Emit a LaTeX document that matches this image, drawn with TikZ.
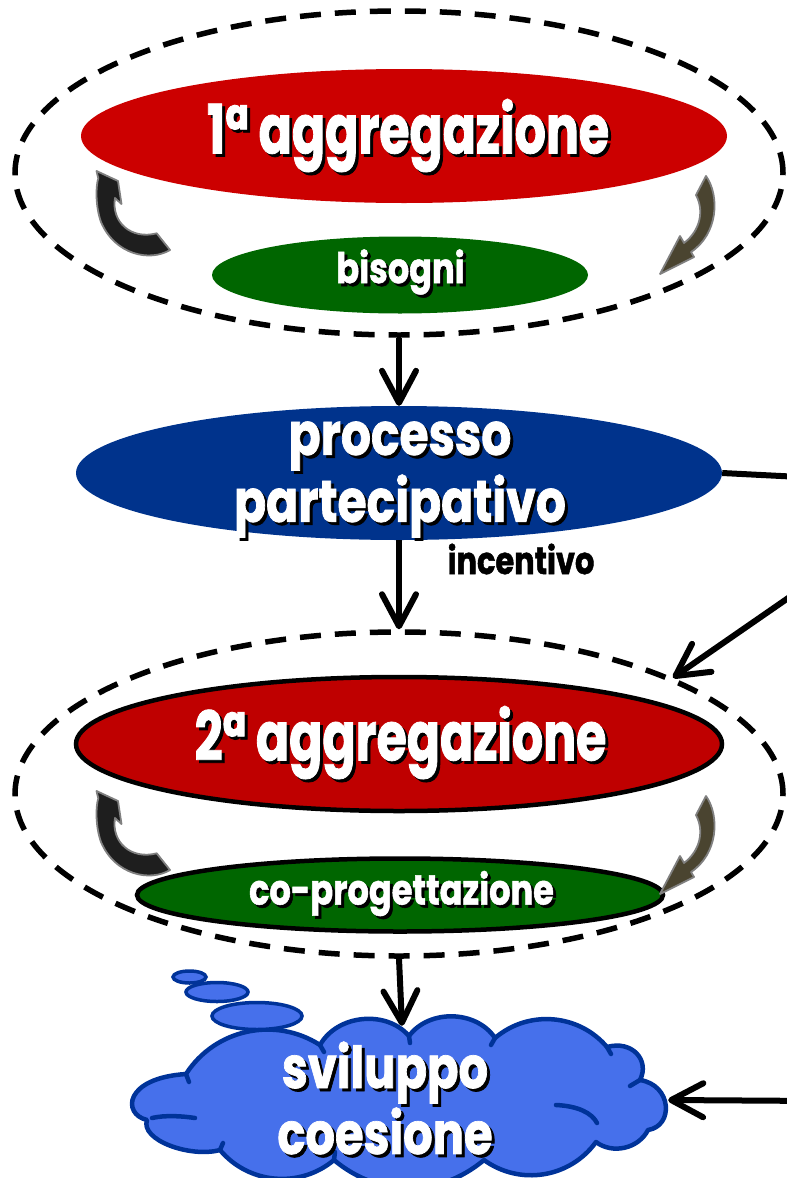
\documentclass[tikz,border=0pt]{standalone}
\usepackage{fontspec}
\usetikzlibrary{shapes.geometric,arrows.meta}
\newfontfamily\df{Poppins}[FakeStretch=0.8,BoldFeatures={FakeBold=1.2}]
\newfontfamily\dfa{Poppins}[FakeStretch=0.72,BoldFeatures={FakeBold=1.2}]
\definecolor{redA}{HTML}{CC0000}
\definecolor{redB}{HTML}{BF0000}
\definecolor{greenA}{HTML}{006600}
\definecolor{blueA}{HTML}{00338C}
\definecolor{cloudF}{RGB}{70,112,235}
\definecolor{cloudB}{HTML}{003399}
\definecolor{arrL}{HTML}{1E1E1E}
\definecolor{arrR}{HTML}{4A4430}
\newcommand{\shd}[1]{\leavevmode\rlap{\kern3pt\raisebox{-3pt}{\color{black}#1}}{\color{white}#1}}
\begin{document}
\begin{tikzpicture}[x=1pt,y=-1pt,
  ring/.style={ellipse, draw=black, line width=5.5pt, dash pattern=on 21pt off 14pt,
    minimum width=768pt, minimum height=324pt, inner sep=0pt},
  blob/.style={ellipse, inner sep=0pt},
  txt/.style={inner sep=0pt, align=center, font=\df\bfseries},
  conn/.style={line width=6pt, -{Straight Barb[length=32pt,width=34pt,line cap=round,line join=round]}},
  carrL/.pic={\filldraw[pic actions, line width=1.8pt, line join=round]
     (-36.5,-43) -- (-15,-33) -- (-11.5,-10) -- (-18,-16)
     .. controls (-22,8) and (-2,26) .. (23.7,19.3) -- (37,36)
     .. controls (17,48) and (-18,41) .. (-32,8)
     .. controls (-38,-9) and (-37,-29) .. (-34.7,-35.7) -- cycle;},
  carrR/.pic={\filldraw[pic actions, line width=1.8pt, line join=round]
     (706,176) .. controls (720,196) and (718,234) .. (691,252) -- (694,257) -- (660,274)
     -- (680,236) -- (684,243) .. controls (701,230) and (704,210) .. (696,195) -- cycle;},
  cloudline/.style={draw=cloudB, line width=4.5pt, line join=round, line cap=round},
  bubble/.style={ellipse, fill=cloudF, draw=cloudB, line width=3.5pt, inner sep=0pt}]
\path[use as bounding box] (0,0) rectangle (787,1178);
\clip (0,0) rectangle (787,1178);

% ---- first aggregation
\node[ring] (g1) at (399,173) {};
\node[blob, fill=redA, minimum width=646pt, minimum height=134pt] (e1) at (404,136) {};
\node[txt, font=\dfa\bfseries\fontsize{68}{60}\selectfont] (t1) at (408,137) {\shd{1ª aggregazione}};
\node[blob, fill=greenA, minimum width=376pt, minimum height=77pt] (b1) at (400,275) {};
\node[txt, font=\df\bfseries\fontsize{42}{42}\selectfont] (tb1) at (400.5,273.5) {\shd{bisogni}};
\pic[fill=arrL, draw=gray] at (133,214) {carrL};
\pic[fill=arrR, draw=gray] at (0,0) {carrR};

% ---- participatory process
\node[blob, fill=blueA, minimum width=646pt, minimum height=134pt] (p) at (399,473) {};
\node[txt, font=\df\bfseries\fontsize{59}{52}\selectfont] (tp) at (400,481) {\shd{processo}\\\shd{partecipativo}};
\node[txt, font=\df\bfseries\fontsize{38}{38}\selectfont] (inc) at (521,559) {incentivo};

% ---- second aggregation
\node[ring] (g2) at (399,794) {};
\node[blob, fill=redB, draw=black, line width=4.5pt, minimum width=646pt, minimum height=134pt] (e2) at (399,744) {};
\node[txt, font=\dfa\bfseries\fontsize{68}{60}\selectfont] (t2) at (400.5,744) {\shd{2ª aggregazione}};
\node[blob, fill=greenA, draw=black, line width=4.5pt, minimum width=526pt, minimum height=73pt] (b2) at (400,895) {};
\node[txt, font=\df\bfseries\fontsize{42}{42}\selectfont] (tb2) at (401.5,895) {\shd{co-progettazione}};
\pic[fill=arrL, draw=gray] at (133,834) {carrL};
\pic[fill=arrR, draw=gray] at (0,620) {carrR};

% ---- cloud
\node[blob, minimum width=532pt, minimum height=148pt] (c) at (402,1100) {};
\filldraw[cloudline, fill=cloudF] (147,1120) .. controls (122,1114) and (124,1078) .. (186,1074)
  to[bend left=45] (320,1045)
  to[bend left=55] (409,1036) to[bend left=55] (495,1038) to[bend left=45] (607,1047)
  .. controls (632,1040) and (650,1060) .. (640,1080)
  .. controls (672,1085) and (674,1126) .. (648,1130)
  to[bend left=50] (596,1142)
  to[bend left=45] (484,1160) to[bend left=40] (334,1160) to[bend left=45] (220,1150)
  .. controls (190,1158) and (140,1140) .. cycle;
\draw[cloudline] (186,1074) -- (189,1082);
\draw[cloudline] (320,1045) -- (324,1052);
\draw[cloudline] (409,1036) -- (410,1043);
\draw[cloudline] (495,1038) -- (491,1045);
\draw[cloudline] (607,1047) -- (611,1054);
\draw[cloudline] (640,1080) -- (630,1086);
\draw[cloudline] (556,1105) .. controls (578,1106) and (592,1113) .. (597,1123);
\draw[cloudline] (152,1118) .. controls (165,1115) and (182,1116) .. (195,1118);
\draw[cloudline] (220,1150) -- (223,1143);
\draw[cloudline] (334,1160) -- (335,1152);
\node[bubble, minimum width=33pt, minimum height=12pt] (bb1) at (189.5,977) {};
\node[bubble, minimum width=62pt, minimum height=19pt] (bb2) at (217,992) {};
\node[bubble, minimum width=90pt, minimum height=27pt] (bb3) at (257,1016) {};
\node[txt, font=\df\bfseries\fontsize{58}{52}\selectfont] (tc) at (385,1099.5) {\shd{sviluppo}\\\shd{coesione}};

% ---- connectors
\coordinate (r1) at (820,478);
\coordinate (r2) at (820,576);
\coordinate (r3) at (820,1101);
\draw[conn] (g1.south) -- (p.north);
\draw[conn] (p.south) -- (g2.north);
\draw[conn] (g2.south) -- (c.north);
\draw[line width=6pt] (p.east) -- (r1);
\draw[conn] (r2) -- (g2.23);
\draw[conn] (r3) -- (c.east);
\end{tikzpicture}
\end{document}
